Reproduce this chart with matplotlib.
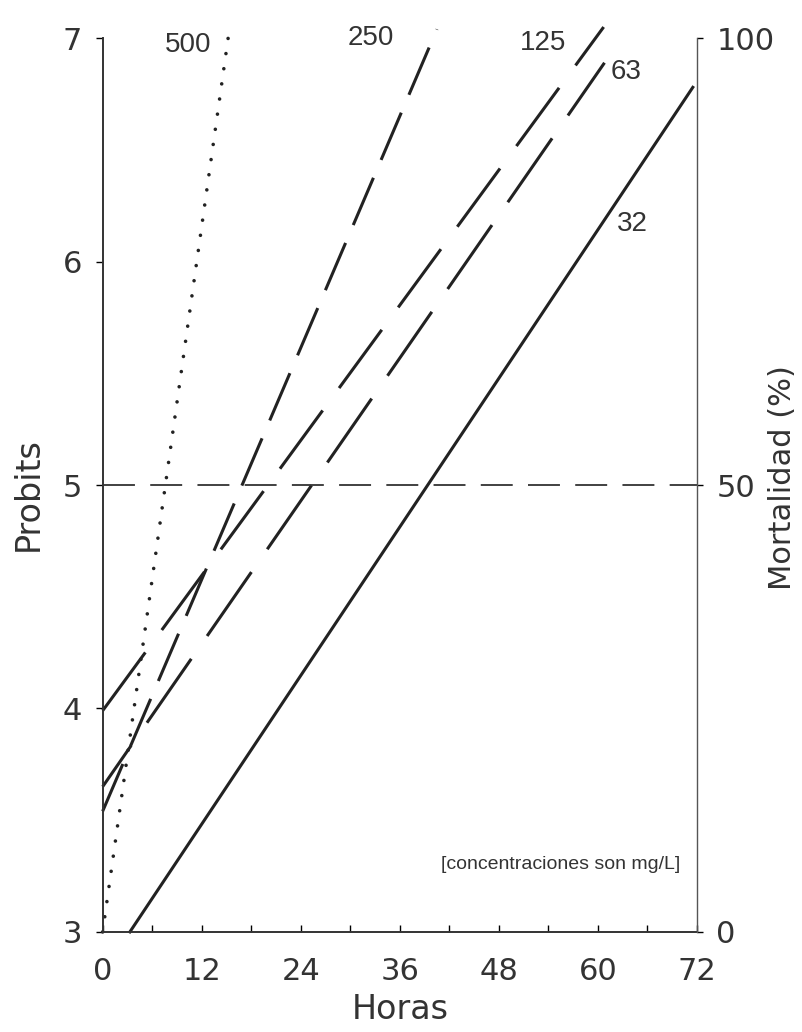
import matplotlib
matplotlib.use('Agg')
import matplotlib.pyplot as plt

plt.rcParams['font.family'] = ['DejaVu Sans']
plt.rcParams['lines.scale_dashes'] = False

# datos: rectas probit vs horas (extremos)
horas_500 = [0, 15.2]
probit_500 = [3.0, 7.0]
horas_250 = [0, 40.5]
probit_250 = [3.54, 7.04]
horas_125 = [0, 60.7]
probit_125 = [3.99, 7.05]
horas_63 = [0, 60.8]
probit_63 = [3.65, 6.89]
horas_32 = [3.3, 71.5]
probit_32 = [3.0, 6.78]

etiquetas = ['500', '250', '125', '63', '32']
etiq_x = [10.3, 32.5, 53.4, 63.4, 64.2]
etiq_y = [6.97, 7.0, 6.98, 6.85, 6.17]

x_ticks = [0, 12, 24, 36, 48, 60, 72]
y_ticks = [3, 4, 5, 6, 7]
mort_ticks = [0, 50, 100]

fig = plt.figure(figsize=(8.02, 10.32), dpi=100)
ax = fig.add_axes([0.128, 0.097, 0.741, 0.866])

# 500: punteada
ax.plot(horas_500, probit_500, color='#222222', lw=2.6,
        linestyle=(0, (0.01, 11)), dash_capstyle='round', clip_on=False)
# 250: guiones
ax.plot(horas_250, probit_250, color='#222222', lw=2.2,
        linestyle=(0, (37, 14)), clip_on=False)
# 125 y 63: guiones largos
ax.plot(horas_125, probit_125, color='#222222', lw=2.2,
        linestyle=(0, (52, 20)), clip_on=False)
ax.plot(horas_63, probit_63, color='#222222', lw=2.2,
        linestyle=(20, (56, 20)), clip_on=False)
# 32: continua
ax.plot(horas_32, probit_32, color='#222222', lw=2.2, clip_on=False)

# linea de 50 %
ax.axhline(5, color='#333333', lw=1.3, linestyle=(0, (23, 11)))

for lab, tx, ty in zip(etiquetas, etiq_x, etiq_y):
    ax.text(tx, ty, lab, fontsize=20, ha='center', va='center', color='#333333',
            family='Liberation Sans')

ax.text(55.5, 3.30, '[concentraciones son mg/L]', fontsize=14,
        ha='center', va='center', color='#333333', family='Liberation Sans')

ax.set_xlim(0, 72)
ax.set_ylim(3, 7)
ax.set_xticks(x_ticks)
ax.set_xticks(range(0, 73, 6), minor=True)
ax.set_yticks(y_ticks)
ax.tick_params(axis='x', direction='in', length=5, width=1, pad=18, labelsize=22,
               labelcolor='#333333')
ax.tick_params(axis='x', which='minor', direction='in', length=5, width=1)
ax.tick_params(axis='y', direction='out', length=5, width=1, pad=10, labelsize=22,
               labelcolor='#333333')

ax.spines['top'].set_visible(False)
ax.spines['right'].set_visible(False)
for s in ['left', 'bottom']:
    ax.spines[s].set_linewidth(1.4)
    ax.spines[s].set_color('#333333')

ax.set_xlabel('Horas', fontsize=24, color='#333333')
ax.xaxis.set_label_coords(0.5, -0.068)
ax.set_ylabel('Probits', fontsize=24, color='#333333')
ax.yaxis.set_label_coords(-0.098, 0.49)

ax2 = ax.twinx()
ax2.set_ylim(0, 100)
ax2.set_yticks(mort_ticks)
ax2.tick_params(axis='y', direction='out', length=4, width=1, pad=10, labelsize=22,
                labelcolor='#333333')
ax2.spines['top'].set_visible(False)
ax2.spines['left'].set_visible(False)
ax2.spines['bottom'].set_visible(False)
ax2.spines['right'].set_linewidth(1.0)
ax2.spines['right'].set_color('#555555')
ax2.set_ylabel('Mortalidad (%)', fontsize=22, color='#333333')
ax2.yaxis.set_label_coords(1.12, 0.508)

fig.savefig('out.png', dpi=100)
